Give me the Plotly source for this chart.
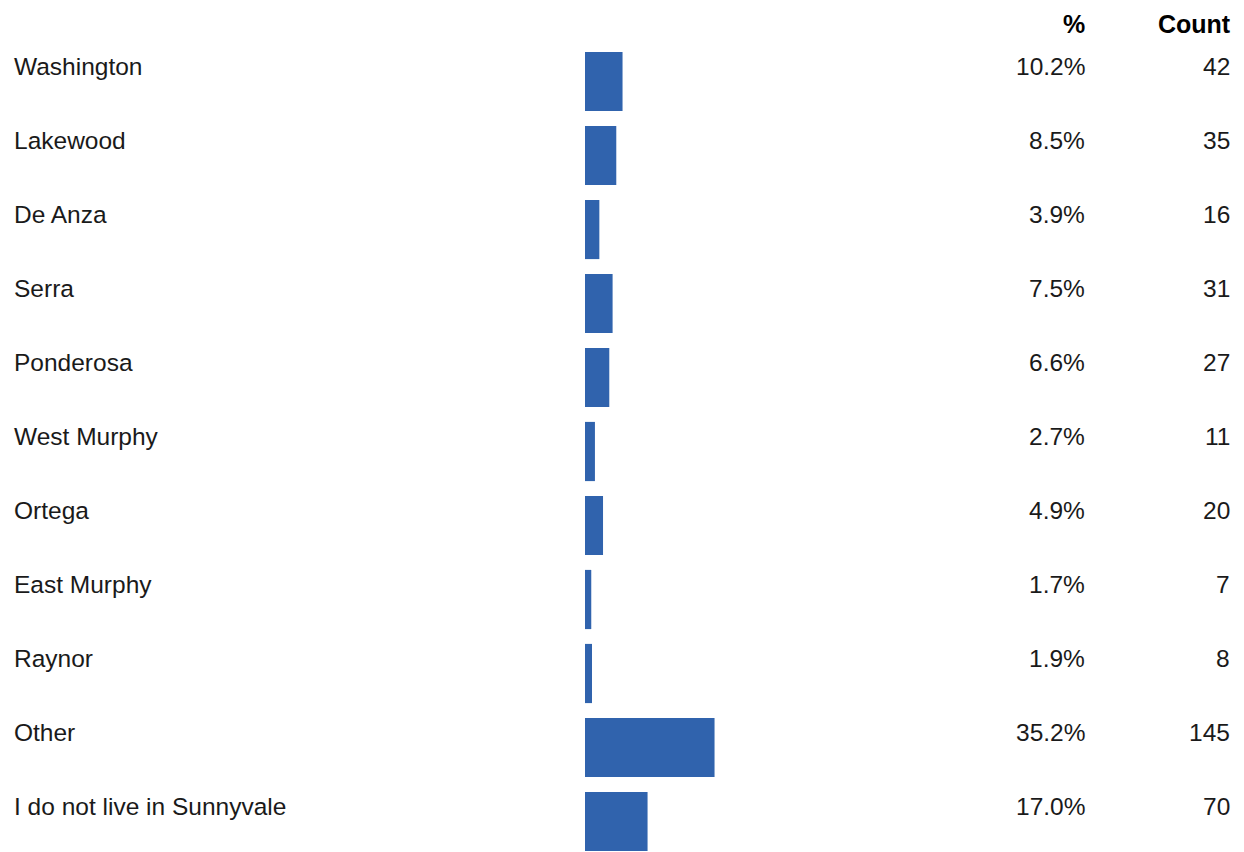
import plotly.graph_objects as go

categories = ["Washington", "Lakewood", "De Anza", "Serra", "Ponderosa", "West Murphy",
              "Ortega", "East Murphy", "Raynor", "Other", "I do not live in Sunnyvale"]
percents = [10.2, 8.5, 3.9, 7.5, 6.6, 2.7, 4.9, 1.7, 1.9, 35.2, 17.0]
counts = [42, 35, 16, 31, 27, 11, 20, 7, 8, 145, 70]
headers = ["%", "Count"]

W, H = 1244, 852
OFF = 8  # page body margin
FONT = "Liberation Sans, Arial, sans-serif"
px_per_pct = 3.68
x0_px = 585 - OFF

fig = go.Figure()
fig.add_trace(go.Bar(
    x=percents, y=categories, orientation="h",
    marker=dict(color="#3063ad", line=dict(width=0)),
    hoverinfo="skip", showlegend=False,
))

ann = []
for cat, p, c in zip(categories, percents, counts):
    ann.append(dict(x=(12 - OFF) / W, y=cat, xref="paper", yref="y", text=cat, showarrow=False,
                    xanchor="left", yanchor="middle", yshift=15,
                    font=dict(family=FONT, size=24.5, color="#1a1a1a")))
    ann.append(dict(x=(1087 - OFF) / W, y=cat, xref="paper", yref="y", text=f"{p:.1f}%", showarrow=False,
                    xanchor="right", yanchor="middle", yshift=15,
                    font=dict(family=FONT, size=24.5, color="#1a1a1a")))
    ann.append(dict(x=(1232 - OFF) / W, y=cat, xref="paper", yref="y", text=str(c), showarrow=False,
                    xanchor="right", yanchor="middle", yshift=15,
                    font=dict(family=FONT, size=24.5, color="#1a1a1a")))

for txt, xp in zip(headers, [1087, 1233]):
    ann.append(dict(x=(xp - OFF) / W, y=1 - (24 - OFF) / H, xref="paper", yref="paper", yanchor="middle",
                    text=f"<b>{txt}</b>", showarrow=False, xanchor="right",
                    font=dict(family=FONT, size=25, color="#000000")))

top_px = 44.5 - OFF
rows_visible = (H - top_px) / 74.0

fig.update_layout(
    width=W, height=H,
    margin=dict(l=0, r=0, t=0, b=0, pad=0),
    paper_bgcolor="white", plot_bgcolor="white",
    bargap=0.2,
    annotations=ann,
    xaxis=dict(range=[-x0_px / px_per_pct, (W - x0_px) / px_per_pct], visible=False, fixedrange=True),
    yaxis=dict(type="category", categoryorder="array", categoryarray=categories,
               domain=[0, 1 - top_px / H],
               range=[rows_visible - 0.5, -0.5], visible=False, fixedrange=True),
)

fig.write_html("out.html", config={"displayModeBar": False})
